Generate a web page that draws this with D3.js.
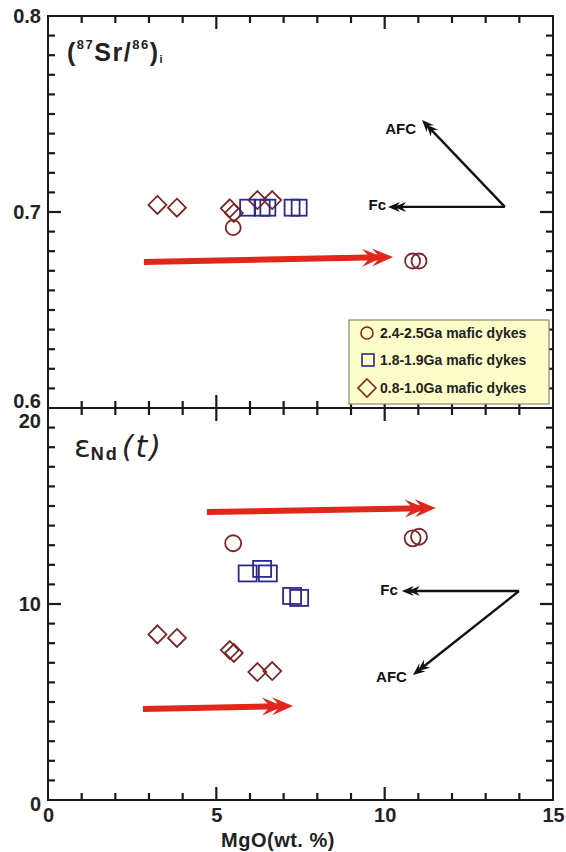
<!DOCTYPE html>
<html>
<head>
<meta charset="utf-8">
<script src="https://cdn.jsdelivr.net/npm/d3@7"></script>
<style>
  body { margin: 0; background: #fff; }
  svg { display: block; font-family: "Liberation Sans", Arial, sans-serif; }
</style>
</head>
<body>
<div id="chart"></div>
<script>
// Data
// 2.4-2.5 Ga mafic dykes (circles)
var mgoOld = [5.5, 10.83, 11.02];
var srOld = [0.692, 0.675, 0.675];
var ndOld = [13.1, 13.35, 13.43];

// 1.8-1.9 Ga mafic dykes (squares)
var mgoMid = [5.93, 6.36, 6.53, 7.25, 7.46];
var srMid = [0.7022, 0.7022, 0.7022, 0.7022, 0.7022];
var ndMid = [11.56, 11.79, 11.56, 10.41, 10.31];

// 0.8-1.0 Ga mafic dykes (diamonds)
var mgoYoung = [3.25, 3.83, 5.4, 5.52, 6.22, 6.66];
var srYoung = [0.7036, 0.7022, 0.7019, 0.6995, 0.7061, 0.7061];
var ndYoung = [8.45, 8.27, 7.65, 7.5, 6.53, 6.58];

var legendLabels = ["2.4-2.5Ga mafic dykes", "1.8-1.9Ga mafic dykes", "0.8-1.0Ga mafic dykes"];

// trend arrows [x0, y0, x1, y1] in data units
var redArrowsSr = [[2.85, 0.6745, 10.25, 0.677]];
var redArrowsNd = [[4.72, 14.69, 11.52, 14.9], [2.82, 4.64, 7.28, 4.8]];
var fcSr = [13.57, 0.7026, 10.1, 0.7026];
var afcSr = [13.57, 0.7026, 11.11, 0.7469];
var fcNd = [13.99, 10.66, 10.51, 10.66];
var afcNd = [13.99, 10.66, 10.84, 6.38];

// ticks
var xMinor = [1, 2, 3, 4, 6, 7, 8, 9, 11, 12, 13, 14];
var xMajor = [5, 10];
var xLabels = [0, 5, 10, 15];
var srMinor = d3.range(61, 80).filter(d => d != 70).map(d => d / 100);
var srMajor = [0.7];
var srLabels = [0.6, 0.7, 0.8];
var ndMinor = d3.range(1, 20).filter(d => d != 10);
var ndMajor = [10];
var ndLabels = [0, 10, 20];

var svgWidth = 566;
var svgHeight = 852;

var plotLeft = 48, plotRight = 553, plotTop = 16, plotMid = 408, plotBottom = 800;

var darkRed = "#7d2626";
var navy = "#2e2a8a";
var red = "#e1261c";
var ink = "#1a1a1a";

var svg = d3.select("#chart")
  .append("svg")
  .attr("width", svgWidth)
  .attr("height", svgHeight);

var xScale = d3.scaleLinear().domain([0, 15]).range([plotLeft, plotRight]);
var ySr = d3.scaleLinear().domain([0.6, 0.8]).range([plotMid, plotTop]);
var yNd = d3.scaleLinear().domain([0, 20]).range([plotBottom, plotMid]);

function styleAxis(g) {
  g.select(".domain").remove();
  g.selectAll("line").remove();
  g.selectAll("text").attr("fill", "#222").style("font-size", "20px").style("font-weight", "bold")
    .style("font-family", "'Liberation Sans', Arial, sans-serif");
}

// inward tick marks, placed through the scales
function yTicks(vals, yScale, x, dir, len) {
  svg.append("g").selectAll("line")
    .data(vals).enter().append("line")
    .attr("x1", x).attr("x2", x + dir * len)
    .attr("y1", d => yScale(d)).attr("y2", d => yScale(d))
    .attr("stroke", ink).attr("stroke-width", 2.2);
}
function xTicks(vals, y, dir, len) {
  svg.append("g").selectAll("line")
    .data(vals).enter().append("line")
    .attr("x1", d => xScale(d)).attr("x2", d => xScale(d))
    .attr("y1", y).attr("y2", y + dir * len)
    .attr("stroke", ink).attr("stroke-width", 2.2);
}

function framePanel(yScale, y0, y1, minorY, majorY, labelsY, fmt) {
  svg.append("rect")
    .attr("x", plotLeft).attr("y", y1)
    .attr("width", plotRight - plotLeft).attr("height", y0 - y1)
    .attr("fill", "none").attr("stroke", ink).attr("stroke-width", 2);
  yTicks(minorY, yScale, plotLeft, 1, 7);
  yTicks(majorY, yScale, plotLeft, 1, 13);
  yTicks(minorY, yScale, plotRight, -1, 7);
  yTicks(majorY, yScale, plotRight, -1, 13);
  xTicks(xMinor, y1, 1, 7);
  xTicks(xMajor, y1, 1, 13);
  xTicks(xMinor, y0, -1, 7);
  xTicks(xMajor, y0, -1, 13);
  // y tick labels
  svg.append("g").attr("class", "ylab").attr("transform", `translate(${plotLeft},0)`)
    .call(d3.axisLeft(yScale).tickValues(labelsY).tickSize(0).tickPadding(7).tickFormat(fmt))
    .call(styleAxis);
}

framePanel(ySr, plotMid, plotTop, srMinor, srMajor, srLabels, d3.format(".1f"));
framePanel(yNd, plotBottom, plotMid, ndMinor, ndMajor, ndLabels, d3.format("d"));

// nudge the y labels that share a panel boundary
svg.selectAll(".ylab text").filter(function() { return this.textContent == "0.6"; }).attr("dy", "-0.05em");
svg.selectAll(".ylab text").filter(function() { return this.textContent == "20"; }).attr("dy", "0.95em");
svg.selectAll(".ylab text").filter(function() { return this.textContent == "0"; }).attr("dy", "0.5em");

// x labels
svg.append("g").attr("transform", `translate(0,${plotBottom})`)
  .call(d3.axisBottom(xScale).tickValues(xLabels).tickSize(0).tickPadding(8).tickFormat(d3.format("d")))
  .call(styleAxis);

svg.append("text")
  .attr("x", 278).attr("y", 847)
  .attr("text-anchor", "middle")
  .style("font-size", "20px").style("font-weight", "bold")
  .style("letter-spacing", "0.5px")
  .attr("fill", "#222")
  .text("MgO(wt. %)");

// panel titles
var t1 = svg.append("text").attr("x", 67).attr("y", 61).attr("fill", "#222")
  .style("font-weight", "bold").style("letter-spacing", "1.5px");
t1.append("tspan").style("font-size", "25px").text("(");
t1.append("tspan").style("font-size", "13px").attr("dy", -12).text("87");
t1.append("tspan").style("font-size", "25px").attr("dy", 12).text("Sr/");
t1.append("tspan").style("font-size", "13px").attr("dy", -12).text("86");
t1.append("tspan").style("font-size", "25px").attr("dy", 12).text(")");
t1.append("tspan").style("font-size", "11px").attr("dy", 2).text("i");

var t2 = svg.append("text").attr("x", 74).attr("y", 457).attr("fill", "#222");
t2.append("tspan").style("font-size", "31px").style("font-family", "'DejaVu Sans', sans-serif").text("ε");
t2.append("tspan").style("font-size", "18px").style("font-weight", "bold")
  .style("letter-spacing", "2px").attr("dy", 3).text("Nd");
t2.append("tspan").style("font-size", "30px").style("font-style", "italic")
  .style("font-family", "'DejaVu Sans', sans-serif").style("letter-spacing", "2px")
  .attr("dx", 3).attr("dy", -3).text("(t)");

// arrows
function drawArrow(a, yScale, color, width, len, half, notch, gap) {
  var x0 = xScale(a[0]), y0 = yScale(a[1]), x1 = xScale(a[2]), y1 = yScale(a[3]);
  var ang = Math.atan2(y1 - y0, x1 - x0);
  var back = len - notch;
  svg.append("line")
    .attr("x1", x0).attr("y1", y0)
    .attr("x2", x1 - Math.cos(ang) * back).attr("y2", y1 - Math.sin(ang) * back)
    .attr("stroke", color).attr("stroke-width", width);
  var chev = function(o) {
    return `M${-o},0 L${-o - len},${-half} L${-o - len + notch},0 L${-o - len},${half}Z`;
  };
  svg.append("path")
    .attr("d", chev(0) + chev(gap))
    .attr("transform", `translate(${x1},${y1}) rotate(${ang * 180 / Math.PI})`)
    .attr("fill", color);
}

redArrowsSr.forEach(a => drawArrow(a, ySr, red, 6, 21, 9, 8, 10));
redArrowsNd.forEach(a => drawArrow(a, yNd, red, 6, 21, 9, 8, 10));
[fcSr, afcSr].forEach(a => drawArrow(a, ySr, "#111", 2.4, 12, 5, 4, 6));
[fcNd, afcNd].forEach(a => drawArrow(a, yNd, "#111", 2.4, 12, 5, 4, 6));

function arrowLabel(x, y, txt) {
  svg.append("text").attr("x", x).attr("y", y)
    .attr("text-anchor", "end").attr("dy", "0.35em")
    .style("font-size", "15px").style("font-weight", "bold").attr("fill", "#111")
    .text(txt);
}
arrowLabel(xScale(afcSr[2]) - 6, ySr(afcSr[3]) + 9, "AFC");
arrowLabel(xScale(fcSr[2]) - 2, ySr(fcSr[3]) - 2, "Fc");
arrowLabel(xScale(fcNd[2]) - 4, yNd(fcNd[3]) - 1, "Fc");
arrowLabel(xScale(afcNd[2]) - 6, yNd(afcNd[3]) + 2, "AFC");

// markers
function circles(xs, ys, yScale, r) {
  svg.append("g").selectAll("circle")
    .data(xs).enter().append("circle")
    .attr("cx", (d, i) => xScale(xs[i]))
    .attr("cy", (d, i) => yScale(ys[i]))
    .attr("r", r)
    .attr("fill", "none").attr("stroke", darkRed).attr("stroke-width", 1.8);
}
function squares(xs, ys, yScale, w, h) {
  svg.append("g").selectAll("rect")
    .data(xs).enter().append("rect")
    .attr("x", (d, i) => xScale(xs[i]) - w / 2)
    .attr("y", (d, i) => yScale(ys[i]) - h / 2)
    .attr("width", w).attr("height", h)
    .attr("fill", "none").attr("stroke", navy).attr("stroke-width", 1.8);
}
function diamonds(xs, ys, yScale, s) {
  svg.append("g").selectAll("path")
    .data(xs).enter().append("path")
    .attr("d", `M0,${-s} L${s},0 L0,${s} L${-s},0Z`)
    .attr("transform", (d, i) => `translate(${xScale(xs[i])},${yScale(ys[i])})`)
    .attr("fill", "none").attr("stroke", darkRed).attr("stroke-width", 1.8);
}

diamonds(mgoYoung, srYoung, ySr, 9);
squares(mgoMid, srMid, ySr, 15, 16);
circles(mgoOld, srOld, ySr, 7.5);

diamonds(mgoYoung, ndYoung, yNd, 9);
squares(mgoMid, ndMid, yNd, 18, 16);
circles(mgoOld, ndOld, yNd, 8);

// legend
var legend = svg.append("g").attr("transform", "translate(349,320)");
legend.append("rect")
  .attr("width", 200).attr("height", 84)
  .attr("fill", "#fdfdc9").attr("stroke", "#8a8a70").attr("stroke-width", 1.2);
var rowY = [13, 40, 68];
legend.append("circle").attr("cx", 18).attr("cy", rowY[0]).attr("r", 6)
  .attr("fill", "none").attr("stroke", darkRed).attr("stroke-width", 1.6);
legend.append("rect").attr("x", 13).attr("y", rowY[1] - 6).attr("width", 12).attr("height", 12)
  .attr("fill", "none").attr("stroke", navy).attr("stroke-width", 1.6);
legend.append("path").attr("d", `M18,${rowY[2] - 9} L27,${rowY[2]} L18,${rowY[2] + 9} L9,${rowY[2]}Z`)
  .attr("fill", "none").attr("stroke", darkRed).attr("stroke-width", 1.6);
legend.selectAll("text.lab")
  .data(legendLabels).enter().append("text")
  .attr("class", "lab")
  .attr("x", 31)
  .attr("y", (d, i) => rowY[i])
  .attr("dy", "0.36em")
  .style("font-size", "14px").style("font-weight", "bold").attr("fill", "#222")
  .text(d => d);
</script>
</body>
</html>
